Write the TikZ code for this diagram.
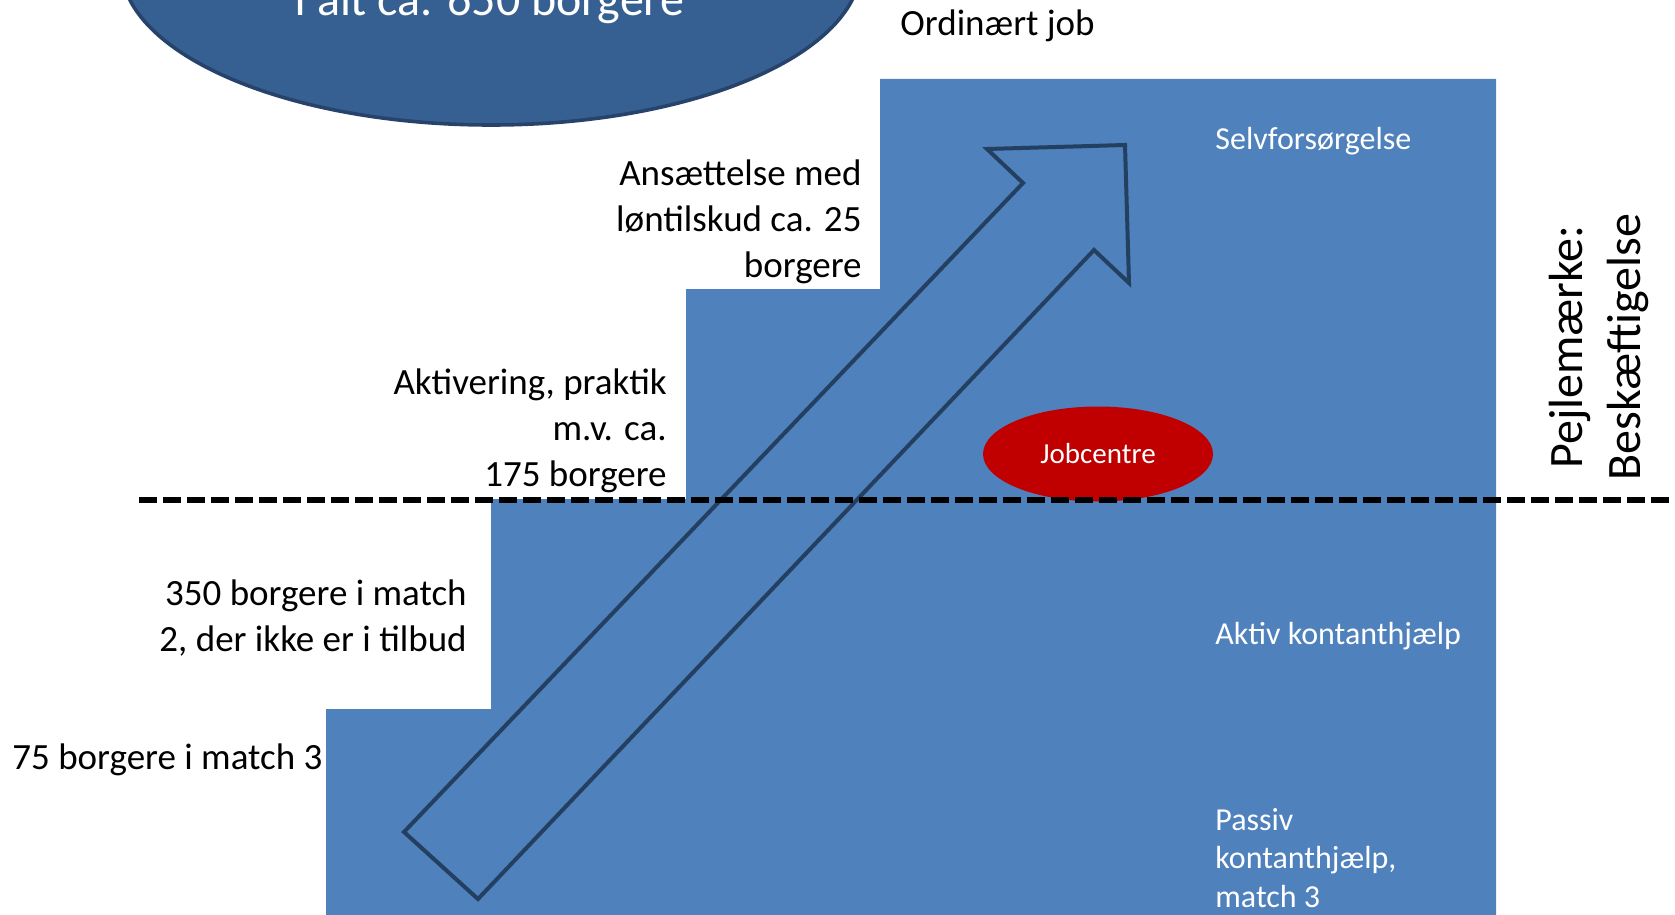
\documentclass[tikz,border=0pt]{standalone}
\usepackage{fontspec}
\setmainfont{Carlito}
\usetikzlibrary{shapes.geometric}
\definecolor{stairblue}{HTML}{4F81BD}
\definecolor{ovalblue}{HTML}{376092}
\definecolor{ovalline}{HTML}{27436B}
\definecolor{arrowline}{HTML}{244061}
\definecolor{jcred}{HTML}{C00000}
\tikzset{
  blacklbl/.style={font=\fontsize{18.5}{23}\selectfont, text=black, inner sep=0pt},
  whitelbl/.style={font=\fontsize{16}{19.25}\selectfont, text=white, inner sep=0pt, anchor=base west},
  bigoval/.style={ellipse, fill=ovalblue, draw=ovalline, line width=1.8pt, inner sep=0pt},
  redoval/.style={ellipse, fill=jcred, inner sep=0pt, text=white, font=\fontsize{14.5}{17}\selectfont},
  uparrow/.style={draw=arrowline, line width=2pt, line join=miter},
  divider/.style={draw=black, line width=2.9pt, dash pattern=on 9pt off 3pt}
}
\begin{document}
\begin{tikzpicture}[x=0.5pt,y=-0.5pt]
\useasboundingbox (0,0) rectangle (1675,915);
\clip (0,0) rectangle (1675,915);

% staircase
\fill[stairblue] (326,915) -- (326,709) -- (491,709) -- (491,499) -- (686,499)
  -- (686,289) -- (880,289) -- (880,79) -- (1496,79) -- (1496,915) -- cycle;

% big oval at top
\node[bigoval, minimum width=370pt, minimum height=160pt] (total) at (491,-35) {};
\node[font=\fontsize{24}{29}\selectfont, text=white, inner sep=0pt, anchor=base] (totaltxt) at (489,16) {I alt ca. 650 borgere};

% arrow
\draw[uparrow] (404,832) -- (1023,183) -- (987,149) -- (1125,145) -- (1129,283) -- (1094,250) -- (478,899) -- cycle;

% left labels
\node[blacklbl, anchor=base west] (ordjob) at (900,36) {Ordinært job};
\node[blacklbl, anchor=base east] (ansat) at (862,185)
  {\begin{tabular}[t]{@{}r@{}}Ansættelse med\\løntilskud ca. 25\\borgere\end{tabular}};
\node[blacklbl, anchor=base east] (aktiv) at (667,394)
  {\begin{tabular}[t]{@{}r@{}}Aktivering, praktik\\m.v. ca.\\175 borgere\end{tabular}};
\node[blacklbl, anchor=base east] (match2) at (467,605)
  {\begin{tabular}[t]{@{}r@{}}350 borgere i match\\2, der ikke er i tilbud\end{tabular}};
\node[blacklbl, anchor=base west] (match3) at (12,769) {75 borgere i match 3};

% white labels on the steps
\node[whitelbl] (selv) at (1215,149) {Selvforsørgelse};
\node[whitelbl] (aktkh) at (1215,644) {Aktiv kontanthjælp};
\node[whitelbl] (paskh) at (1215,830)
  {\begin{tabular}[t]{@{}l@{}}Passiv\\kontanthjælp,\\match 3\end{tabular}};

% Jobcentre
\node[redoval, minimum width=115pt, minimum height=47.5pt] (jobc) at (1098,454) {\raisebox{-1pt}{Jobcentre}};

% dashed divider
\coordinate (dl) at (139,500);
\coordinate (dr) at (1672,500);
\draw[divider] (dl) -- (dr);

% rotated label
\node[font=\fontsize{24}{29}\selectfont, inner sep=0pt, rotate=90, anchor=base] (pejl) at (1582,347)
  {\begin{tabular}[t]{@{}c@{}}Pejlemærke:\\Beskæftigelse\end{tabular}};
\end{tikzpicture}
\end{document}
